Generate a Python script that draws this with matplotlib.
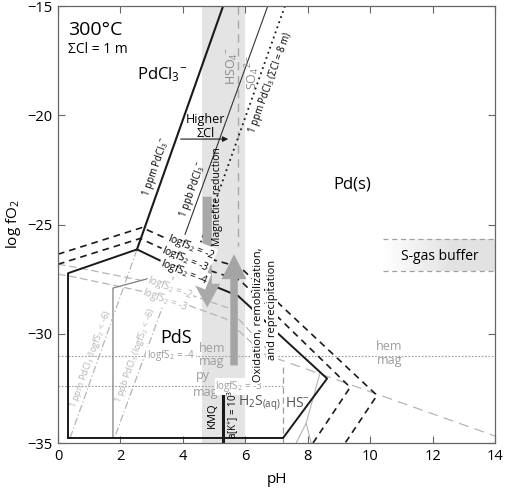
import numpy as np
import matplotlib
matplotlib.use("Agg")
import matplotlib.pyplot as plt
from matplotlib.colors import LinearSegmentedColormap

plt.rcParams['font.family'] = ['Open Sans', 'DejaVu Sans']
plt.rcParams['mathtext.fontset'] = 'custom'
plt.rcParams['mathtext.rm'] = 'Open Sans'
plt.rcParams['mathtext.it'] = 'Open Sans:italic'
plt.rcParams['mathtext.default'] = 'regular'

# PdCl3- iso-concentration lines (pH, log fO2)
ppm_ph = [5.29, 2.53]
ppm_fo2 = [-15, -26.14]
ppm_low_ph = [2.53, 0.38]
ppm_low_fo2 = [-26.14, -34.8]
ppb_ph = [6.72, 4.07]
ppb_fo2 = [-15, -25.45]
ppb_low_ph = [3.75, 1.8]
ppb_low_fo2 = [-27.2, -34.8]
cl8_ph = [7.27, 4.55]
cl8_fo2 = [-15, -25.91]

# Pd(s) / PdS boundaries for log fS2 = -4 (solid), -3 and -2 (dashed)
s4_ph = [0.32, 0.32, 2.53, 4.77, 5.77, 6.22, 7.02, 8.62, 7.21, 0.32]
s4_fo2 = [-34.77, -27.23, -26.14, -27.68, -28.27, -28.86, -29.95, -32.05, -34.77, -34.77]
s3_ph = [0, 2.63, 4.93, 5.83, 9.36, 8.17]
s3_fo2 = [-26.82, -25.64, -27.14, -27.55, -32.45, -35]
s2_ph = [0, 2.69, 5.03, 5.83, 10.22, 9.20]
s2_fo2 = [-26.36, -25.14, -26.64, -26.95, -32.82, -35]

# grey boundaries (lower S)
g2_ph = [0, 0.54, 3.27, 5.45, 6.73]
g2_fo2 = [-26.82, -26.95, -27.73, -28.82, -30.77]
g3_ph = [0, 0.54, 3.27, 5.38, 6.54]
g3_fo2 = [-27.27, -27.41, -28.23, -29.32, -30.86]
ppb_pds_ph = [1.76, 1.76, 2.95]
ppb_pds_fo2 = [-34.77, -27.91, -27.45]
long_ph = [6.47, 14.0]
long_fo2 = [-30.86, -34.68]
hs_ph = [8.39, 7.95, 7.63]
hs_fo2 = [-31.82, -34.09, -35]
hs2_ph = [7.95, 8.11]
hs2_fo2 = [-34.09, -35]

# buffers / sulfur species
hem_mag = -31.0
py_mag = -32.41
h2s_hs_ph = 7.21
hso4_so4_ph = 5.77
kmq_ph = 5.3
band_ph = [4.6, 6.0]
sgas_ph = [10.41, 14.0]
sgas_fo2 = [-27.14, -25.68]

fig = plt.figure(figsize=(5.05, 4.88), dpi=100)
ax = fig.add_axes([0.1149, 0.0922, 0.8653, 0.8955])
ax.set_xlim(0, 14)
ax.set_ylim(-35, -15)

black = '#1a1a1a'
grey = '#9c9c9c'
lgrey = '#b5b5b5'

ax.axvspan(band_ph[0], band_ph[1], color='#e4e4e4', lw=0, zorder=0)

# S-gas buffer box with gradient
cmap = LinearSegmentedColormap.from_list('g', ['#ffffff', '#e2e2e2'])
grad = np.clip(np.linspace(0, 1.6, 200), 0, 1)[None, :]
ax.imshow(grad, extent=[sgas_ph[0], sgas_ph[1], sgas_fo2[0], sgas_fo2[1]],
          cmap=cmap, aspect='auto', zorder=0.5, vmin=0, vmax=1)
for yb in sgas_fo2:
    ax.plot(sgas_ph, [yb, yb], color='#a0a0a0', lw=0.9, ls=(0, (4, 3)), zorder=1)

# grey lines
ax.plot([0, 14], [hem_mag, hem_mag], color=grey, lw=0.8, ls=(0, (1.5, 1.5)), zorder=1)
ax.plot([0, h2s_hs_ph], [py_mag, py_mag], color=grey, lw=0.8, ls=(0, (1.5, 1.5)), zorder=1)
ax.plot([h2s_hs_ph, h2s_hs_ph], [-31.5, -35], color=grey, lw=0.9, ls=(0, (5, 3)), zorder=1)
ax.plot([hso4_so4_ph, hso4_so4_ph], [-15, -26.0], color='#a8a8a8', lw=1.0, ls=(0, (6, 4)), zorder=1)
ax.plot(long_ph, long_fo2, color=lgrey, lw=0.9, ls=(0, (8, 5)), zorder=1)
ax.plot(g2_ph, g2_fo2, color=lgrey, lw=0.9, ls=(0, (6, 3)), zorder=1)
ax.plot(g3_ph, g3_fo2, color=lgrey, lw=0.9, ls=(0, (6, 3)), zorder=1)
ax.plot(ppb_pds_ph, ppb_pds_fo2, color='#808080', lw=0.9, zorder=1)
ax.plot(hs_ph, hs_fo2, color=lgrey, lw=0.8, zorder=1)
ax.plot(hs2_ph, hs2_fo2, color=lgrey, lw=0.8, zorder=1)
ax.plot(ppm_low_ph, ppm_low_fo2, color=lgrey, lw=0.9, ls=(0, (6, 2, 1, 2)), zorder=1)
ax.plot(ppb_low_ph, ppb_low_fo2, color=lgrey, lw=0.9, ls=(0, (6, 2, 1, 2)), zorder=1)

# black lines
ax.plot(ppm_ph, ppm_fo2, color=black, lw=1.5, zorder=2)
ax.plot(ppb_ph, ppb_fo2, color='#333333', lw=0.8, zorder=2)
ax.plot(cl8_ph, cl8_fo2, color=black, lw=1.3, ls=(0, (1, 2)), zorder=2)
ax.plot(s4_ph, s4_fo2, color=black, lw=1.4, zorder=2)
ax.plot(s3_ph, s3_fo2, color=black, lw=1.2, ls=(0, (4, 3)), zorder=2)
ax.plot(s2_ph, s2_fo2, color=black, lw=1.2, ls=(0, (4, 3)), zorder=2)
ax.plot([kmq_ph, kmq_ph], [-32.73, -35], color=black, lw=2.2, zorder=2)

# arrows
ax.arrow(4.78, -23.73, 0, -3.98, width=0.29, head_width=0.83, head_length=1.09,
         length_includes_head=False, color='#a9a9a9', lw=0, zorder=3)
ax.arrow(5.64, -31.45, 0, 3.95, width=0.24, head_width=0.8, head_length=1.14,
         length_includes_head=False, color='#a4a4a4', lw=0, zorder=3)
ax.annotate('', xy=(5.54, -21.09), xytext=(3.84, -21.09),
            arrowprops=dict(arrowstyle='-|>', color=black, lw=0.8, mutation_scale=8), zorder=4)

wb = dict(facecolor='white', edgecolor='none', pad=0.5)

# texts
ax.text(0.32, -16.09, '300°C', fontsize=14, ha='left', va='center')
ax.text(0.32, -17.0, 'ΣCl = 1 m', fontsize=10, ha='left', va='center')
ax.text(3.33, -18.14, 'PdCl$_3$$^{-}$', fontsize=12, ha='center', va='center')
ax.text(4.74, -20.18, 'Higher', fontsize=9, ha='center', va='center')
ax.text(4.74, -20.82, 'ΣCl', fontsize=9, ha='center', va='center')
ax.text(5.6, -17.73, 'HSO$_4$$^{-}$', fontsize=9, color='#8a8a8a', rotation=90, ha='center', va='center')
ax.text(6.22, -18.05, 'SO$_4$$^{2-}$', fontsize=9, color='#8a8a8a', rotation=90, ha='center', va='center')
ax.text(6.82, -18.5, '1 ppm PdCl$_3$ (ΣCl = 8 m)', fontsize=7, rotation=70, ha='center', va='center')
ax.text(3.14, -22.36, '1 ppm PdCl$_3$$^{-}$', fontsize=7, rotation=70.5, ha='center', va='center')
ax.text(4.33, -23.41, '1 ppb PdCl$_3$$^{-}$', fontsize=7, rotation=70, ha='center', va='center')
ax.text(5.1, -23.73, 'Magnetite reduction', fontsize=7.5, rotation=90, ha='center', va='center', zorder=4)
ax.text(6.41, -29.15, 'Oxidation, remobilization,', fontsize=8, rotation=90, ha='center', va='center', bbox=wb, zorder=4)
ax.text(6.86, -28.9, 'and reprecipitation', fontsize=8, rotation=90, ha='center', va='center', bbox=wb, zorder=4)
ax.text(9.42, -23.18, 'Pd(s)', fontsize=12, ha='center', va='center')
ax.text(3.78, -30.18, 'PdS', fontsize=13, ha='center', va='center')
ax.text(12.24, -26.45, 'S-gas buffer', fontsize=10, ha='center', va='center', zorder=3)
ax.text(4.93, -30.68, 'hem', fontsize=9, color=grey, ha='center', va='center')
ax.text(4.93, -31.27, 'mag', fontsize=9, color=grey, ha='center', va='center')
ax.text(4.65, -31.91, 'py', fontsize=9, color=grey, ha='center', va='center')
ax.text(4.74, -32.68, 'mag', fontsize=9, color=grey, ha='center', va='center')
ax.text(10.61, -30.59, 'hem', fontsize=9, color=grey, ha='center', va='center')
ax.text(10.61, -31.23, 'mag', fontsize=9, color=grey, ha='center', va='center')
ax.text(3.62, -31.0, 'logfS$_2$ = -4', fontsize=7, color=grey, ha='center', va='center', bbox=wb, zorder=3)
ax.text(5.8, -32.41, 'logfS$_2$ = -3', fontsize=7, color=grey, ha='center', va='center', bbox=wb, zorder=3)
ax.text(4.26, -26.05, 'logfS$_2$ = -2', fontsize=7.5, rotation=-22, ha='center', va='center', bbox=wb, zorder=3)
ax.text(4.07, -26.59, 'logfS$_2$ = -3', fontsize=7.5, rotation=-22, ha='center', va='center', bbox=wb, zorder=3)
ax.text(4.04, -27.18, 'logfS$_2$ = -4', fontsize=7.5, rotation=-22, ha='center', va='center', bbox=wb, zorder=3)
ax.text(3.59, -27.91, 'logfS$_2$ = -2', fontsize=7, color=lgrey, rotation=-20, ha='center', va='center', bbox=wb, zorder=3)
ax.text(3.43, -28.45, 'logfS$_2$ = -3', fontsize=7, color=lgrey, rotation=-20, ha='center', va='center', bbox=wb, zorder=3)
ax.text(1.03, -31.14, '1 ppm PdCl$_3$ (logfS$_2$ < -6)', fontsize=6.5, color=lgrey, rotation=70, ha='center', va='center')
ax.text(2.47, -31.0, '1 ppb PdCl$_3$ (logfS$_2$ < -6)', fontsize=6.5, color=lgrey, rotation=70, ha='center', va='center')
ax.text(4.93, -33.73, 'KMQ', fontsize=8, rotation=90, ha='center', va='center')
ax.text(5.61, -33.68, 'a[K$^{+}$] = 10$^{3}$', fontsize=7, rotation=90, ha='center', va='center')
ax.text(6.45, -33.18, 'H$_2$S$_{(aq)}$', fontsize=10, color='#555555', ha='center', va='center')
ax.text(7.68, -33.18, 'HS$^{-}$', fontsize=10, color='#555555', ha='center', va='center')

ax.set_xticks(range(0, 15, 2))
ax.set_yticks([-35, -30, -25, -20, -15])
ax.tick_params(direction='in', top=True, right=True, length=5, width=0.8,
               color='#666666', labelsize=10.5, pad=4)
for s in ax.spines.values():
    s.set_color('#666666')
    s.set_linewidth(0.9)
ax.set_xlabel('pH', fontsize=11, labelpad=6)
ax.set_ylabel('log fO$_2$', fontsize=11, labelpad=3)

fig.savefig('out.png', dpi=100)
